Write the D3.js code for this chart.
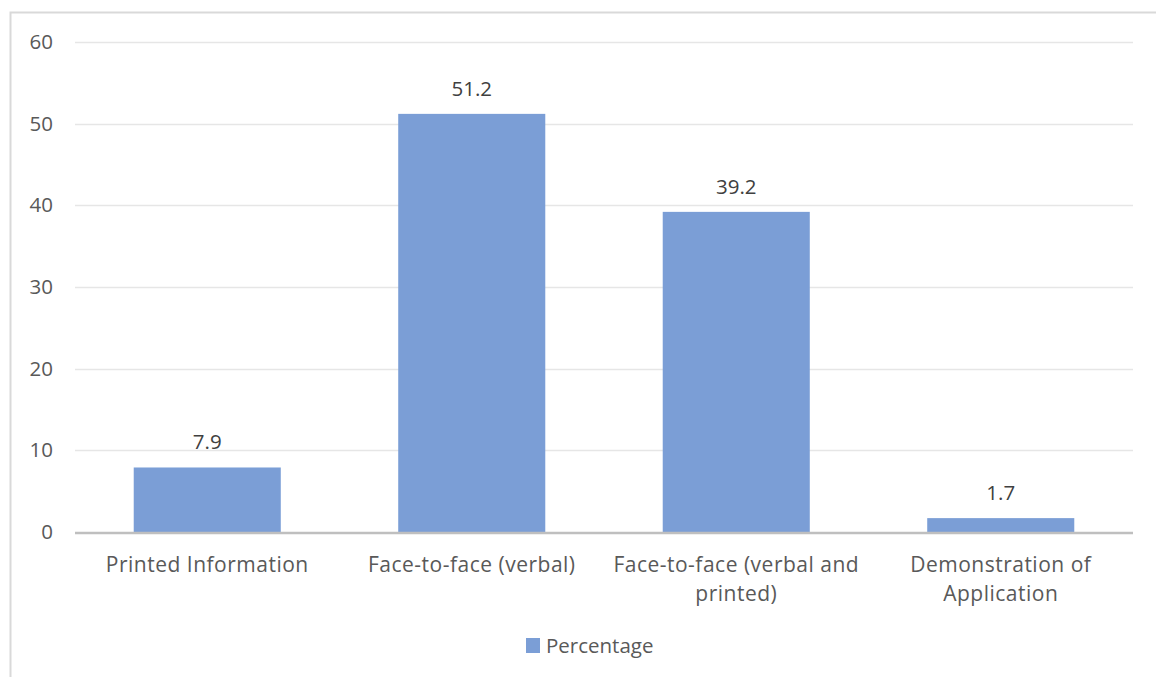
<!DOCTYPE html>
<html>
<head>
<meta charset="utf-8">
<script src="https://cdn.jsdelivr.net/npm/d3@7"></script>
<style>
  html, body { margin: 0; padding: 0; background: #fff; }
  svg { display: block; }
  text { font-family: "Open Sans", "Noto Sans", sans-serif; }
</style>
</head>
<body>
<svg id="chart" width="1156" height="677"></svg>
<script>
// Chart data
const categories = [
  "Printed Information",
  "Face-to-face (verbal)",
  "Face-to-face (verbal and printed)",
  "Demonstration of Application"
];
const percentages = [7.9, 51.2, 39.2, 1.7];
const seriesName = "Percentage";
const yTicks = [0, 10, 20, 30, 40, 50, 60];

const W = 1156, H = 677;
const margin = { left: 75, right: 23, top: 42, bottom: 145 };
const fontSize = "20.5px";
const svg = d3.select("#chart");

// Chart frame
svg.append("rect")
  .attr("x", 10.5).attr("y", 12.5)
  .attr("width", W).attr("height", H)
  .attr("fill", "#fff")
  .attr("stroke", "#d9d9d9").attr("stroke-width", 2);

const x = d3.scaleBand()
  .domain(categories)
  .range([margin.left, W - margin.right])
  .paddingInner(0.444).paddingOuter(0.222);

const y = d3.scaleLinear()
  .domain([0, 60])
  .range([H - margin.bottom, margin.top]);

// Horizontal gridlines
svg.append("g")
  .selectAll("line")
  .data(yTicks.filter(t => t > 0))
  .join("line")
  .attr("x1", margin.left).attr("x2", W - margin.right)
  .attr("y1", d => Math.round(y(d)) + 0.5).attr("y2", d => Math.round(y(d)) + 0.5)
  .attr("stroke", "#e6e6e6").attr("stroke-width", 1.5);

// Y axis labels
const yAxis = d3.axisLeft(y).tickValues(yTicks).tickSize(0).tickPadding(0);
const yg = svg.append("g")
  .attr("transform", `translate(${margin.left - 22},0)`)
  .call(yAxis);
yg.select(".domain").remove();
yg.selectAll("text")
  .attr("fill", "#595959")
  .style("font-size", fontSize)
  .style("font-family", "'Open Sans', sans-serif");

// Bars
svg.append("g")
  .selectAll("rect")
  .data(percentages)
  .join("rect")
  .attr("x", (d, i) => x(categories[i]))
  .attr("y", d => y(d))
  .attr("width", x.bandwidth())
  .attr("height", d => y(0) - y(d))
  .attr("fill", "#7b9ed6");

// Value labels
svg.append("g")
  .selectAll("text")
  .data(percentages)
  .join("text")
  .attr("x", (d, i) => x(categories[i]) + x.bandwidth() / 2)
  .attr("y", d => y(d) - 18)
  .attr("text-anchor", "middle")
  .attr("fill", "#404040")
  .style("font-size", fontSize)
  .text(d => d.toFixed(1));

// Baseline
svg.append("line")
  .attr("x1", margin.left).attr("x2", W - margin.right)
  .attr("y1", y(0) + 1).attr("y2", y(0) + 1)
  .attr("stroke", "#bfbfbf").attr("stroke-width", 2.5);

// Category labels with word wrapping
const xg = svg.append("g")
  .attr("transform", `translate(0,${y(0)})`)
  .call(d3.axisBottom(x).tickSize(0).tickPadding(0));
xg.select(".domain").remove();
xg.selectAll("text")
  .attr("fill", "#595959")
  .style("font-size", "21px")
  .style("letter-spacing", "0.5px")
  .style("font-family", "'Open Sans', sans-serif")
  .attr("dy", null)
  .each(function(d) {
    const t = d3.select(this);
    const words = d.split(" ");
    t.text(null);
    const maxW = 262;
    let lines = [], cur = [];
    const probe = t.append("tspan");
    words.forEach(w => {
      cur.push(w);
      probe.text(cur.join(" "));
      if (probe.node().getComputedTextLength() > maxW && cur.length > 1) {
        cur.pop();
        lines.push(cur.join(" "));
        cur = [w];
      }
    });
    lines.push(cur.join(" "));
    probe.remove();
    lines.forEach((ln, i) => {
      t.append("tspan")
        .attr("x", 0)
        .attr("y", 40 + i * 29)
        .text(ln);
    });
  });

// Legend
const lg = svg.append("g").attr("transform", "translate(526,638)");
lg.append("rect").attr("width", 14).attr("height", 15).attr("fill", "#7b9ed6");
lg.append("text")
  .attr("x", 20).attr("y", 15)
  .attr("fill", "#595959")
  .style("font-size", fontSize)
  .text(seriesName);
</script>
</body>
</html>
